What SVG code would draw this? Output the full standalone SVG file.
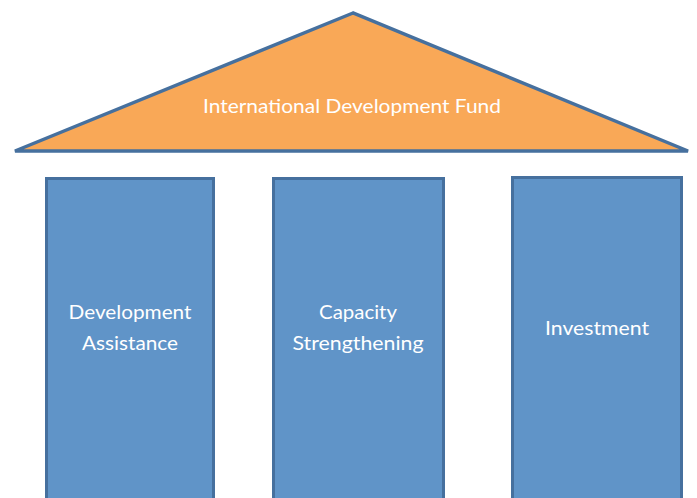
<svg xmlns="http://www.w3.org/2000/svg" width="697" height="498" viewBox="0 0 697 498">
<style>
.pillar{fill:#6094c8;stroke:#46709e;stroke-width:3}
.roof{fill:#f9a857;stroke:#46709e;stroke-width:3.5;stroke-linejoin:miter}
.t{font-family:Lato,"Open Sans","Liberation Sans",sans-serif;font-size:19px;fill:#ffffff;text-anchor:middle}
</style>
<rect width="697" height="498" fill="#ffffff"/>
<g id="roof">
<polygon class="roof" points="353,13 15,151 688,151"/>
<text class="t" x="352" y="113" textLength="298" lengthAdjust="spacingAndGlyphs">International Development Fund</text>
</g>
<g id="pillar1">
<rect class="pillar" x="46.5" y="178.5" width="167" height="330"/>
<text class="t" x="130" y="319" textLength="123" lengthAdjust="spacingAndGlyphs">Development</text>
<text class="t" x="130" y="350" textLength="96" lengthAdjust="spacingAndGlyphs">Assistance</text>
</g>
<g id="pillar2">
<rect class="pillar" x="273.5" y="178.5" width="170" height="330"/>
<text class="t" x="358" y="319" textLength="78" lengthAdjust="spacingAndGlyphs">Capacity</text>
<text class="t" x="358" y="350" textLength="131" lengthAdjust="spacingAndGlyphs">Strengthening</text>
</g>
<g id="pillar3">
<rect class="pillar" x="512.5" y="177.5" width="169" height="330"/>
<text class="t" x="597" y="335" textLength="104" lengthAdjust="spacingAndGlyphs">Investment</text>
</g>
<g id="connectors"/>
</svg>
